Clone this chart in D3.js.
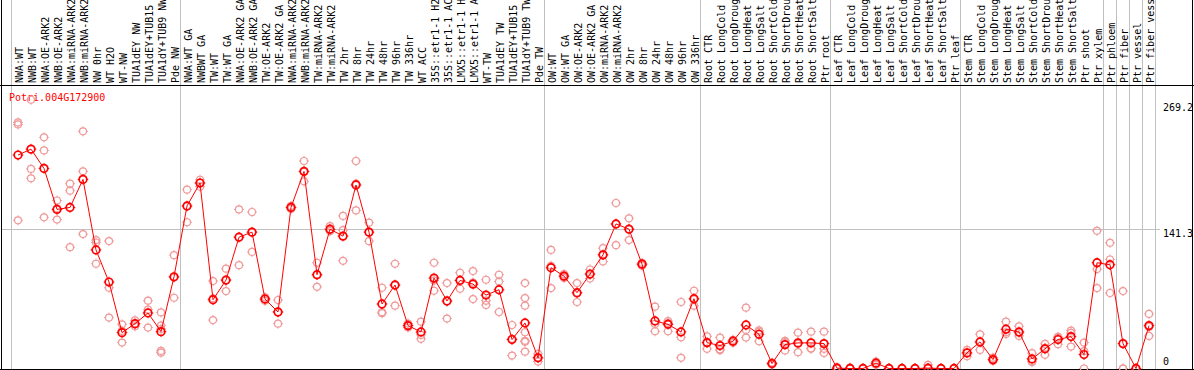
<!DOCTYPE html>
<html>
<head>
<meta charset="utf-8">
<script src="https://cdn.jsdelivr.net/npm/d3@7"></script>
<style>
  html, body { margin: 0; padding: 0; background: #fff; }
  svg { display: block; }
  text { font-family: "DejaVu Sans Mono", monospace; font-size: 10px; }
</style>
</head>
<body>
<svg id="chart" width="1194" height="370"></svg>
<script>
const title = "Potri.004G172900";

const categories = [
  "NWA:WT","NWB:WT","NWA:OE-ARK2","NWB:OE-ARK2","NWA:miRNA-ARK2","NWB:miRNA-ARK2","NW 0hr","WT H2O","WT-NW","TUA1dEY NW","TUA1dEY+TUB15","TUA1dY+TUB9 NW","Pde NW",
  "NWA:WT GA","NWBWT GA","TW:WT","TW:WT GA","NWA:OE-ARK2 GA","NWB:OE-ARK2 GA","TW:OE-ARK2","TW:OE-ARK2 GA","NWA:miRNA-ARK2","NWB:miRNA-ARK2","TW:miRNA-ARK2","TW:miRNA-ARK2",
  "TW 2hr","TW 8hr","TW 24hr","TW 48hr","TW 96hr","TW 336hr","WT ACC","35S::etr1-1 H2","35S::etr1-1 AC","LMX5::etr1-1 H","LMX5::etr1-1 A","WT-TW","TUA1dEY TW","TUA1dEY+TUB15","TUA1dY+TUB9 TW","Pde TW",
  "OW:WT","OW:WT GA","OW:OE-ARK2","OW:OE-ARK2 GA","OW:miRNA-ARK2","OW:miRNA-ARK2","OW 2hr","OW 8hr","OW 24hr","OW 48hr","OW 96hr","OW 336hr",
  "Root CTR","Root LongCold","Root LongDroug","Root LongHeat","Root LongSalt","Root ShortCold","Root ShortDrou","Root ShortHeat","Root ShortSalt","Ptr root",
  "Leaf CTR","Leaf LongCold","Leaf LongDroug","Leaf LongHeat","Leaf LongSalt","Leaf ShortCold","Leaf ShortDrou","Leaf ShortHeat","Leaf ShortSalt","Ptr leaf",
  "Stem CTR","Stem LongCold","Stem LongDroug","Stem LongHeat","Stem LongSalt","Stem ShortCold","Stem ShortDrou","Stem ShortHeat","Stem ShortSalt","Ptr shoot",
  "Ptr xylem","Ptr phloem","Ptr fiber","Ptr vessel","Ptr fiber vess"
];

// mean expression per category
const means = [
  216, 222, 202.5, 161, 163, 191.4, 120, 87.5, 36.3, 45.4, 56.2, 37.3, 92.8,
  164.5, 187.7, 69.6, 89.5, 132.9, 138, 70.3, 57.2, 163, 199.5, 94.9, 141,
  134, 185.7, 138, 65.3, 84.5, 43.4, 37, 91.5, 68.3, 89.1, 85.4, 74.3, 79.7, 29.3, 46.1, 10.8,
  102, 93.5, 76.7, 95.6, 115, 146.3, 141, 105.6, 48.1, 44.7, 37, 70.6,
  26.2, 23.2, 27.6, 44, 34.6, 5, 24.2, 25.9, 25.9, 25.2,
  0.3, 0, 0, 5.4, 0, 0, 0, 0.3, 0, 0,
  15.8, 26.9, 9, 39.7, 37, 9.7, 19.9, 29.3, 32.3, 14.1,
  107, 105, 25.2, 0, 43.4
];

// individual replicate values per category
const replicates = [
  [249,247,150],[272,202,192.5],[234,220.7,153],[170,162,150.7],[187,180,122.8],[240,199.5,136],[130,127.5,106],[129,81.7,51.5],[44.7,38,26.2],[48.8,44.7,42.7],[68.6,59.5,41.4],[56.8,43.4,40,17.8,16],[114.7,92,71.6],
  [181,164,148],[191,188,184],[88.5,71,49],[101,89,78.4],[161,133,104.6],[158.4,138,118],[72,70.3,68.5],[69.3,57,45.4],[164.5,163,161.5],[210,199,189.4],[107,95,82.7],[144,140,139],
  [154.4,140,109],[210,187,160],[147.6,138,128.9],[81.7,57,56],[106,84,63.6],[45.5,43.4,41.5],[47.4,34,30],[107,89,78.7],[86.5,68,50.5],[96.9,89.5,80.7],[98.6,87,70.3],[89.8,68.6,64.3],[94.9,88,57.2],[44,30,13.1],[86.5,71.3,63.6,36.7,28,27,17],[14.8,11,7],
  [120,104,81.4],[95.5,93,91.5],[86.5,76,67.3],[100.2,95,91.1],[121.8,115,108.3],[167.5,146,124.8],[152,141,130],[107,105.6,104],[62.6,45.1,37.7],[48,46,37.7],[67.3,31.6,10.8],[78.7,70,63.6],
  [32.6,26,19.9],[31.3,19.5,18.5],[29,27.6,26],[61.6,39,31.3],[38.5,37,27.6],[6,5,4],[28,26.6,18.2],[36.3,25,16.5],[37.3,20.5,19.9],[37.3,19.9,15.8],
  [1.3,0,0],[1,0,0],[0,0,0],[7,5.4,3.7],[0,0,0],[0,0,0],[0,0,0],[3.7,0,0],[0,0,0],[0,0,0],
  [18.8,16,12.4],[34.6,27,18.8],[11,8.5,7.7],[47.4,36.7,35],[42.7,36,33],[15.5,7,6.7],[24.9,21,13.8],[32,31.3,24.6],[38.3,36,22.2],[26.2,17.5,0],
  [139.3,100.6,81.4],[127.2,110.3,76.4],[78.4,0,0],[0,0,0],[55.2,42,33]
];

// indices of the first category of each group (separators drawn before them)
const groupStarts = [0, 13, 41, 53, 63, 73, 84, 85, 86, 87, 88];

const yTicks = [0, 141.3, 269.2];
const gridValues = [141.3];

const W = 1194, H = 370;
const svg = d3.select("#chart");

const idx = d3.range(categories.length);
const x = d3.scaleBand().domain(idx).range([11.5, 11.5 + 13 * categories.length]).padding(0);
const cx = i => x(i) + x.bandwidth() / 2;
const sepX = i => (i < categories.length ? x(i) : x.range()[1]);
const y = d3.scaleLinear().domain([0, 269.2]).range([368.5, 102.5]);

// horizontal grid line
svg.selectAll("line.hgrid").data(gridValues).join("line")
  .attr("x1", 1).attr("x2", 1160)
  .attr("y1", d => Math.round(y(d)) + 0.5).attr("y2", d => Math.round(y(d)) + 0.5)
  .attr("stroke", "#c0c0c0").attr("stroke-width", 1);

// vertical group separators
svg.selectAll("line.vsep").data(groupStarts).join("line")
  .attr("x1", d => Math.floor(sepX(d)) + 0.5).attr("x2", d => Math.floor(sepX(d)) + 0.5)
  .attr("y1", 0).attr("y2", H)
  .attr("stroke", "#c0c0c0").attr("stroke-width", 1);

// frame
svg.append("line").attr("x1", 0).attr("x2", W).attr("y1", 85.5).attr("y2", 85.5).attr("stroke", "#000");
svg.append("line").attr("x1", 1.5).attr("x2", 1.5).attr("y1", 0).attr("y2", H).attr("stroke", "#000");
svg.append("line").attr("x1", 1192.5).attr("x2", 1192.5).attr("y1", 0).attr("y2", H).attr("stroke", "#000");
svg.append("line").attr("x1", 0).attr("x2", W).attr("y1", 369.5).attr("y2", 369.5).attr("stroke", "#000");

// category labels (vertical)
svg.selectAll("text.cat").data(idx).join("text")
  .attr("class", "cat")
  .attr("transform", i => `translate(${cx(i) + 4.5},83) rotate(-90)`)
  .attr("text-anchor", "start")
  .attr("fill", "#000")
  .text(i => categories[i]);

// title
svg.append("text").attr("x", 9).attr("y", 101).attr("fill", "#ff0000").text(title);

// y tick labels
svg.selectAll("text.ytick").data(yTicks).join("text")
  .attr("x", 1163)
  .attr("y", d => d === 0 ? 365 : y(d) + 8)
  .attr("fill", "#000")
  .text(d => d === 0 ? "0" : d.toFixed(1));

// marker shape: circle with little ticks
function marker(g, r, color, sw) {
  g.append("circle").attr("r", r).attr("fill", "none").attr("stroke", color).attr("stroke-width", sw);
  const t = r + 1.5;
  g.append("path")
    .attr("d", `M0,${-t}V${-r + 0.5}M0,${t}V${r - 0.5}M${-t},0H${-r + 0.5}M${t},0H${r - 0.5}`)
    .attr("stroke", color).attr("stroke-width", 1).attr("fill", "none");
}

// replicates
const repData = [];
replicates.forEach((arr, i) => arr.forEach(v => repData.push({ i, v })));
svg.append("g").selectAll("g").data(repData).join("g")
  .attr("transform", d => `translate(${cx(d.i)},${y(d.v)})`)
  .each(function () { marker(d3.select(this), 3.5, "#f09a9a", 1.2); });

// mean line
const line = d3.line().x(i => cx(i)).y(i => y(means[i]));
svg.append("path").datum(idx).attr("d", line)
  .attr("fill", "none").attr("stroke", "#ff0000").attr("stroke-width", 1);

// mean markers
svg.append("g").selectAll("g").data(idx).join("g")
  .attr("transform", i => `translate(${cx(i)},${y(means[i])})`)
  .each(function () { marker(d3.select(this), 3.8, "#ff0000", 1.7); });
</script>
</body>
</html>
